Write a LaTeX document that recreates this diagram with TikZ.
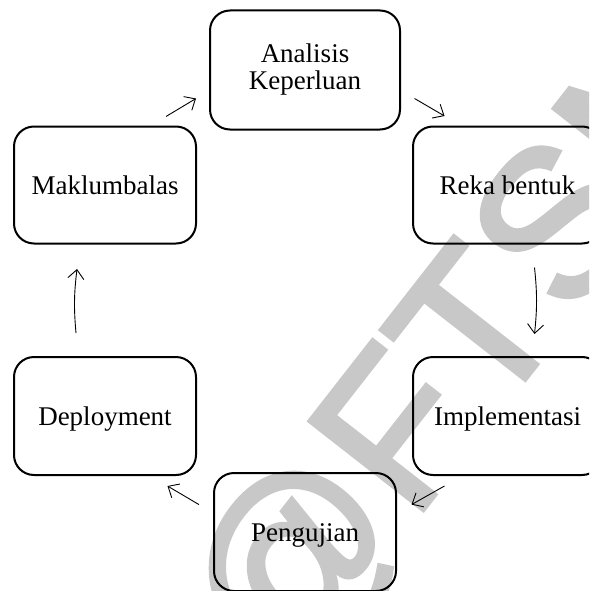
\documentclass[tikz,border=0pt]{standalone}
\usepackage{fontspec}
\setmainfont{Liberation Serif}
\newfontfamily\wmfont[FakeBold=2]{Liberation Sans}
\usetikzlibrary{arrows.meta,calc}
\definecolor{wm}{RGB}{200,200,200}
\tikzset{
  stage/.style={draw, line width=2pt, rounded corners=20pt, inner sep=0pt,
    font=\fontsize{27}{28}\selectfont, align=center},
  oneline/.style={text height=18pt, text depth=0pt},
  flow/.style={line width=0.9pt, -{Straight Barb[length=9pt,width=16pt]}},
}
\begin{document}
\begin{tikzpicture}[x=1pt,y=-1pt]
\useasboundingbox (0,0) rectangle (589,591);
\clip (0,0) rectangle (589,591);
\fill[white] (0,0) rectangle (589,591);
% watermark
\node[rotate=52, anchor=base west, inner sep=0pt, text=wm,
  font=\wmfont\fontsize{210}{210}\selectfont] (wmark) at (281.5,691.6) {\llap{Copyright}@FTSM};
% stages
\node[stage, minimum width=190pt, minimum height=119pt] (ana) at (305,70) {Analisis\\[-1pt]Keperluan};
\node[stage, oneline, minimum width=189pt, minimum height=117pt] (rek) at (507.5,185) {Reka bentuk};
\node[stage, oneline, minimum width=182pt, minimum height=117pt] (mak) at (105,185) {Maklumbalas};
\node[stage, oneline, minimum width=182pt, minimum height=118pt] (dep) at (105,416) {Deployment};
\node[stage, oneline, minimum width=189pt, minimum height=118pt] (imp) at (507.5,416) {Implementasi};
\node[stage, oneline, minimum width=182pt, minimum height=118pt] (pen) at (305,532) {Pengujian};
% connectors
\draw[flow] ($(mak.north east)+(-31,-9)$) -- ($(ana.south west)+(-13,-32)$);
\draw[flow] ($(ana.south east)+(13.5,-32)$) -- ($(rek.north west)+(32.5,-9.5)$);
\draw[flow] ($(rek.south)+(27,23)$) to[bend left=6] ($(imp.north)+(27,-22)$);
\draw[flow] ($(imp.south west)+(32.5,10)$) -- ($(pen.north east)+(14.5,32.6)$);
\draw[flow] ($(pen.north west)+(-14,32.6)$) -- ($(dep.south east)+(-29.5,10)$);
\draw[flow] ($(dep.north)+(-29,-23)$) to[bend left=6] ($(mak.south)+(-28,24.5)$);
\end{tikzpicture}
\end{document}
